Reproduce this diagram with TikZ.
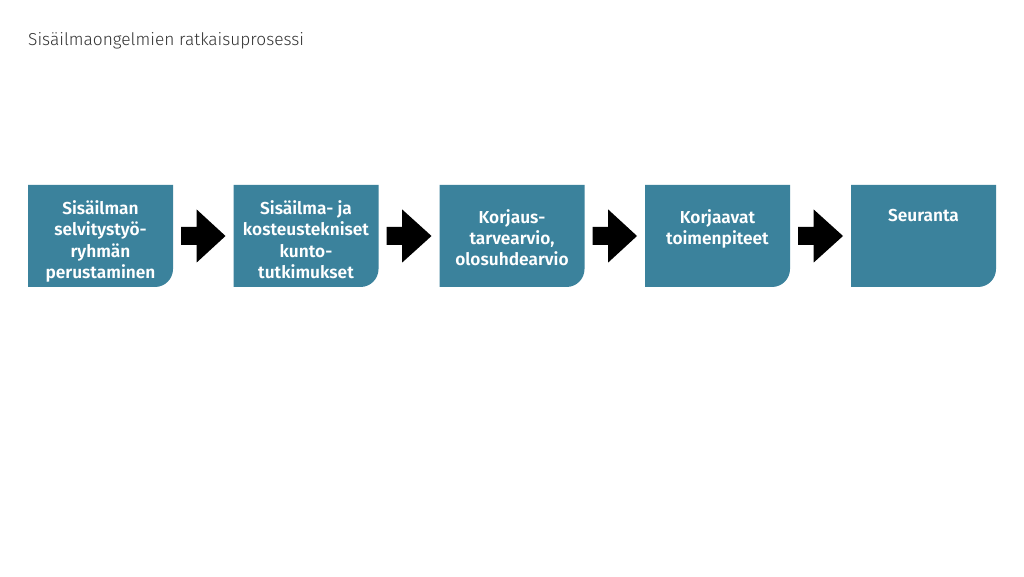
\documentclass[tikz,border=0pt]{standalone}
\usepackage{fontspec}
\setmainfont{Fira Sans}[BoldFont={Fira Sans SemiBold}]
\newfontfamily\titlefont{Fira Sans Light}
\usetikzlibrary{calc}
\definecolor{boxteal}{RGB}{59,130,156}
\definecolor{titlegray}{RGB}{50,50,50}
\tikzset{
  stage/.style={minimum width=145pt, minimum height=102pt, inner sep=0pt, outer sep=0pt},
  stagetext/.style={anchor=north, align=center, inner sep=0pt, text=white,
    font=\fontsize{17.3}{21.3}\selectfont\bfseries},
  blockarrow/.style={fill=black}
}
\newcommand{\stagefill}[1]{%
  \fill[boxteal] (#1.north west) -- (#1.north east) -- ($(#1.south east)+(0,18)$)
    arc[start angle=0, end angle=-90, radius=18pt] -- (#1.south west) -- cycle;}
\newcommand{\stagearrow}[2]{%
  \fill[blockarrow] ($(#1.east)+(8,9)$) -- ($(#1.east)+(23.7,9)$) -- ($(#1.east)+(23.7,26.5)$)
    -- ($(#2.west)+(-8,0)$) -- ($(#1.east)+(23.7,-26.5)$) -- ($(#1.east)+(23.7,-9)$)
    -- ($(#1.east)+(8,-9)$) -- cycle;}
\begin{document}
\begin{tikzpicture}[x=1pt,y=1pt]
\useasboundingbox (0,0) rectangle (1024,576);
\fill[white] (0,0) rectangle (1024,576);
\node[anchor=base west, inner sep=0pt, text=titlegray, font=\titlefont\fontsize{17.3}{20}\selectfont] (title) at (28,530) {Sisäilmaongelmien ratkaisuprosessi};
\node[stage] (b1) at (100.5,340) {};
\node[stage] (b2) at (306,340) {};
\node[stage] (b3) at (512,340) {};
\node[stage] (b4) at (717.5,340) {};
\node[stage] (b5) at (923.5,340) {};
\foreach \b in {b1,b2,b3,b4,b5}{\stagefill{\b}}
\stagearrow{b1}{b2}
\stagearrow{b2}{b3}
\stagearrow{b3}{b4}
\stagearrow{b4}{b5}
\node[stagetext] (t1) at ($(b1.north)+(0,-15.5)$) {Sisäilman\\selvitystyö-\\ryhmän\\perustaminen};
\node[stagetext] (t2) at ($(b2.north)+(0,-15.5)$) {Sisäilma- ja\\kosteustekniset\\kunto-\\tutkimukset};
\node[stagetext] (t3) at ($(b3.north)+(0,-24)$) {Korjaus-\\tarvearvio,\\olosuhdearvio};
\node[stagetext] (t4) at ($(b4.north)+(0,-24)$) {Korjaavat\\toimenpiteet};
\node[stagetext] (t5) at ($(b5.north)+(0,-24)$) {Seuranta};
\end{tikzpicture}
\end{document}
